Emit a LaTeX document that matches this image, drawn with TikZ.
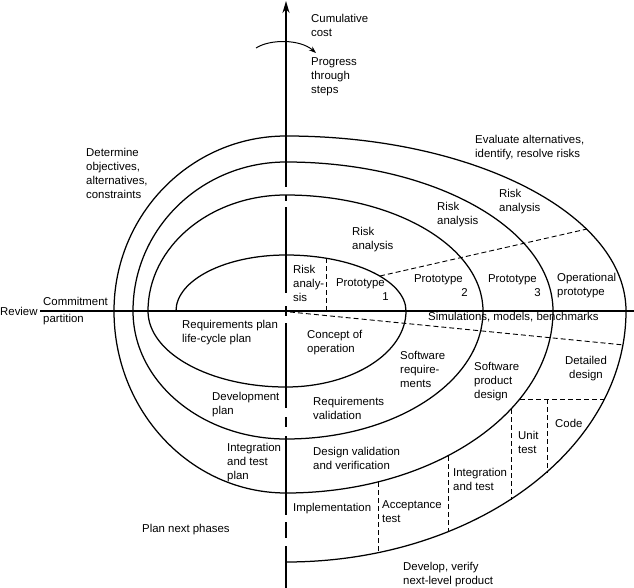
\documentclass[tikz,border=0pt]{standalone}
\usepackage{fontspec}
\setmainfont{Liberation Sans}
\usetikzlibrary{arrows.meta}
\begin{document}
\begin{tikzpicture}[x=1pt,y=-1pt,
  lbl/.style={anchor=west,align=left,inner sep=0pt,font=\fontsize{11.4}{14}\selectfont},
  lblr/.style={lbl,anchor=east,align=right},
  lblc/.style={lbl,anchor=center,align=center},
  spiral/.style={line width=1.25pt},
  axisline/.style={line width=1.9pt},
  dline/.style={line width=0.9pt,dash pattern=on 5pt off 3pt}]
\useasboundingbox (0,0) rectangle (634,588);

% axes
\draw[axisline] (40,311) -- (634,311);
\draw[axisline,-{Stealth[length=12pt,width=7pt]}] (286,187) -- (286,1);
\draw[axisline] (286,195) -- (286,201);
\draw[axisline] (286,207) -- (286,293);
\draw[axisline] (286,306) -- (286,316);
\draw[axisline] (286,323) -- (286,408);
\draw[axisline] (286,417) -- (286,427);
\draw[axisline] (286,436) -- (286,515);
\draw[axisline] (286,522) -- (286,538);
\draw[axisline] (286,546) -- (286,588);

% progress arrow
\draw[line width=1pt,-{Stealth[length=7pt,width=5pt]}] (256,48) .. controls (270,39) and (300,39) .. (316,53);

% spiral
\draw[spiral] (176,311)
 arc[start angle=180,end angle=90,x radius=110pt,y radius=56pt]
 arc[start angle=90,end angle=0,x radius=120pt,y radius=56pt]
 arc[start angle=0,end angle=-90,x radius=120pt,y radius=76pt]
 arc[start angle=270,end angle=180,x radius=138pt,y radius=76pt]
 arc[start angle=180,end angle=90,x radius=138pt,y radius=116pt]
 arc[start angle=90,end angle=0,x radius=197pt,y radius=116pt]
 arc[start angle=0,end angle=-90,x radius=197pt,y radius=128pt]
 arc[start angle=270,end angle=180,x radius=153pt,y radius=128pt]
 arc[start angle=180,end angle=90,x radius=153pt,y radius=149pt]
 arc[start angle=90,end angle=0,x radius=267pt,y radius=149pt]
 arc[start angle=0,end angle=-90,x radius=267pt,y radius=182pt]
 arc[start angle=270,end angle=180,x radius=172pt,y radius=182pt]
 arc[start angle=180,end angle=90,x radius=172pt,y radius=175pt]
 arc[start angle=90,end angle=0,x radius=340pt,y radius=175pt]
 arc[start angle=0,end angle=-90,x radius=340pt,y radius=251pt];

% dashed dividers
\draw[dline] (326,258) -- (326,311);
\draw[dline] (380,276) -- (587,229);
\draw[dline] (290,312) -- (624,345);
\draw[dline] (520,399) -- (605,399);
\draw[dline] (547,399) -- (547,473);
\draw[dline] (511,409) -- (511,500);
\draw[dline] (448,456) -- (448,532);
\draw[dline] (378,482) -- (378,553);

% labels
\node[lbl] (cum) at (311,25) {Cumulative\\cost};
\node[lbl] (prog) at (311,77) {Progress\\through\\steps};
\node[lbl] (determ) at (86,173) {Determine\\objectives,\\alternatives,\\constraints};
\node[lbl] (eval) at (475,148) {Evaluate alternatives,\\identify, resolve risks};
\node[lbl] (risk3) at (499,202) {Risk\\analysis};
\node[lbl] (risk2) at (437,215) {Risk\\analysis};
\node[lbl] (risk1) at (352,239.5) {Risk\\analysis};
\node[lbl] (risk0) at (293,283) {Risk\\analy-\\sis};
\node[lblr] (proto1) at (385,289.5) {Prototype\\1\hspace*{-4pt}};
\node[lblr] (proto2) at (463,285.5) {Prototype\\2\hspace*{-5pt}};
\node[lblr] (proto3) at (537,285.5) {Prototype\\3\hspace*{-4pt}};
\node[lbl] (oper) at (557,285.5) {Operational\\prototype};
\node[lbl] (rev) at (0,311) {Review};
\node[lbl] (com) at (43,311.5) {Commitment\\[3pt]partition};
\node[lbl] (sim) at (428,317) {Simulations, models, benchmarks};
\node[lbl] (reqplan) at (182,332.5) {Requirements plan\\life-cycle plan};
\node[lbl] (concept) at (307,343) {Concept of\\operation};
\node[lbl] (swreq) at (400,369) {Software\\require-\\ments};
\node[lbl] (swprod) at (474,382) {Software\\product\\design};
\node[lblc] (detail) at (586,368.5) {Detailed\\design};
\node[lbl] (code) at (555,423) {Code};
\node[lbl] (unit) at (518,442.5) {Unit\\test};
\node[lbl] (integ) at (453,479) {Integration\\and test};
\node[lbl] (accept) at (382,511.5) {Acceptance\\test};
\node[lbl] (impl) at (293,509) {Implementation};
\node[lbl] (desval) at (313,458.5) {Design validation\\and verification};
\node[lbl] (reqval) at (313,408.5) {Requirements\\validation};
\node[lbl] (develop) at (403,575) {Develop, verify\\next-level product};
\node[lbl] (devplan) at (212,405) {Development\\plan};
\node[lbl] (itplan) at (227,462.5) {Integration\\and test\\plan};
\node[lbl] (plannext) at (142,530) {Plan next phases};
\end{tikzpicture}
\end{document}
